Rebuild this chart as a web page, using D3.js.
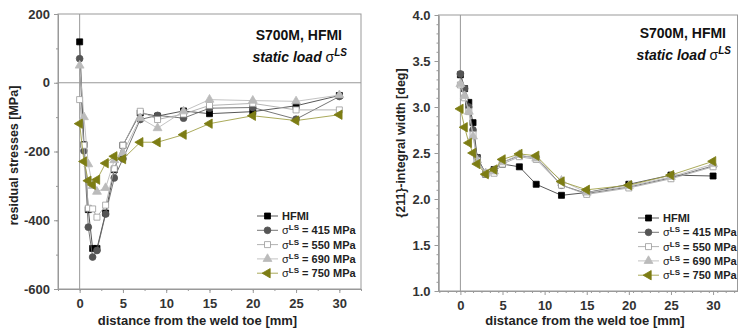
<!DOCTYPE html>
<html><head><meta charset="utf-8">
<script src="https://cdn.jsdelivr.net/npm/d3@7/dist/d3.min.js"></script>
<style>body{margin:0;background:#fff}svg{display:block}</style>
</head><body><svg id="c" width="739" height="331"></svg>
<script>
// ---- data ----
const distances = [0, 0.5, 1, 1.5, 2, 3, 4, 5, 7, 9, 12, 15, 20, 25, 30];
const seriesKeys = ["HFMI", "415", "550", "690", "750"];
const legendLevels = [null, "415", "550", "690", "750"];

// residual stresses [MPa]
const rsHFMI = [119, -180, -369, -482, -482, -379, -253, -182, -88, -97, -82, -90, -84, -67, -37];
const rs415  = [70, -198, -420, -507, -488, -382, -277, -221, -107, -95, -103, -74, -72, -106, -40];
const rs550  = [-49, -182, -365, -367, -391, -356, -250, -182, -83, -107, -91, -66, -60, -79, -79];
const rs690  = [50, -100, -237, -300, -317, -306, -225, -204, -103, -132, -83, -49, -52, -54, -36];
const rs750  = [-119, -229, -285, -297, -282, -234, -214, -222, -173, -173, -151, -119, -96, -110, -93];

// {211}-integral width [deg]
const iwHFMI = [3.35, 3.20, 3.05, 2.83, 2.45, 2.27, 2.32, 2.38, 2.35, 2.16, 2.04, 2.07, 2.16, 2.26, 2.25];
const iw415  = [3.36, 3.20, 3.00, 2.75, 2.45, 2.28, 2.32, 2.40, 2.47, 2.45, 2.15, 2.06, 2.13, 2.23, 2.36];
const iw550  = [3.24, 3.10, 2.95, 2.70, 2.42, 2.27, 2.28, 2.38, 2.46, 2.43, 2.15, 2.05, 2.12, 2.22, 2.35];
const iw690  = [3.25, 3.12, 2.95, 2.68, 2.42, 2.28, 2.30, 2.40, 2.48, 2.44, 2.20, 2.07, 2.14, 2.24, 2.38];
const iw750  = [2.98, 2.78, 2.61, 2.50, 2.38, 2.27, 2.32, 2.43, 2.49, 2.47, 2.19, 2.10, 2.15, 2.26, 2.41];

const xMajorTicks = [0, 5, 10, 15, 20, 25, 30];
const rsTicks = [-600, -400, -200, 0, 200];
const rsTickLabels = ["-600", "-400", "-200", "0", "200"];
const iwTicks = [1.0, 1.5, 2.0, 2.5, 3.0, 3.5, 4.0];
const iwTickLabels = ["1.0", "1.5", "2.0", "2.5", "3.0", "3.5", "4.0"];

// ---- styles ----
const styles = {
  "HFMI": {sym: d3.symbolSquare, size: 36, fill: "#000", stroke: "#000", line: "#444", rot: 0},
  "415":  {sym: d3.symbolCircle, size: 36, fill: "#555", stroke: "#555", line: "#666", rot: 0},
  "550":  {sym: d3.symbolSquare, size: 36, fill: "#fff", stroke: "#999", line: "#aaa", rot: 0},
  "690":  {sym: d3.symbolTriangle, size: 34, fill: "#bbb", stroke: "#bbb", line: "#bbb", rot: 0},
  "750":  {sym: d3.symbolTriangle, size: 38, fill: "#7d7d14", stroke: "#7d7d14", line: "#a0a048", rot: -90}
};
const FONT = "'Liberation Sans', Arial, sans-serif";
const svg = d3.select("#c");

function drawPanel(cfg) {
  const g = svg.append("g");
  const x = d3.scaleLinear().domain(cfg.xDomain).range(cfg.xRange);
  const y = d3.scaleLinear().domain(cfg.yDomain).range(cfg.yRange);
  const [x0, x1] = cfg.xRange, [y0, y1] = [cfg.yRange[1], cfg.yRange[0]];

  // axis labels (drawn first, below everything)
  g.append("text").attr("x", (x0 + x1) / 2 + cfg.xLabelDx).attr("y", 325).attr("text-anchor", "middle")
    .style("font-family", FONT).style("font-size", "13px").style("font-weight", "bold").attr("fill", "#222")
    .text("distance from the weld toe  [mm]");
  g.append("text").attr("transform", `translate(${cfg.yLabelX},${(y0 + y1) / 2 + cfg.yLabelDy}) rotate(-90)`)
    .attr("text-anchor", "middle")
    .style("font-family", FONT).style("font-size", "12.5px").style("font-weight", "bold").attr("fill", "#222")
    .text(cfg.yLabel);

  // frame
  g.append("rect").attr("x", x0).attr("y", y0).attr("width", x1 - x0).attr("height", y1 - y0)
    .attr("fill", "none").attr("stroke", "#999").attr("stroke-width", 1);
  // zero lines
  g.append("line").attr("x1", x(0)).attr("x2", x(0)).attr("y1", y0).attr("y2", y1)
    .attr("stroke", "#999").attr("stroke-width", 1);
  if (cfg.hZero) g.append("line").attr("x1", x0).attr("x2", x1).attr("y1", y(0)).attr("y2", y(0))
    .attr("stroke", "#999").attr("stroke-width", 1);

  // axes
  const minorX = d3.range(-2.5, 32.6, cfg.xMinorStep).filter(v => v >= cfg.xDomain[0] && v <= cfg.xDomain[1]);
  const ax = g.append("g").attr("transform", `translate(0,${y1})`)
    .call(d3.axisBottom(x).tickValues(minorX).tickSize(2).tickFormat("").tickSizeOuter(0));
  const axM = g.append("g").attr("transform", `translate(0,${y1})`)
    .call(d3.axisBottom(x).tickValues(xMajorTicks).tickSize(4).tickPadding(6).tickSizeOuter(0));
  const ay = g.append("g").attr("transform", `translate(${x0},0)`)
    .call(d3.axisLeft(y).tickValues(cfg.yMinor).tickSize(2).tickFormat("").tickSizeOuter(0));
  const ayM = g.append("g").attr("transform", `translate(${x0},0)`)
    .call(d3.axisLeft(y).tickValues(cfg.yTicks).tickSize(4).tickPadding(4)
      .tickFormat((v, i) => cfg.yTickLabels[i]).tickSizeOuter(0));
  [ax, axM, ay, ayM].forEach(a => {
    a.select(".domain").attr("stroke", "#999");
    a.selectAll(".tick line").attr("stroke", "#999");
    a.selectAll("text").attr("fill", "#333").style("font-family", FONT).style("font-size", "13px").style("font-weight", "bold");
  });

  // series
  cfg.series.forEach((vals, i) => {
    const st = styles[seriesKeys[i]];
    const pts = distances.map((d, j) => [d, vals[j]]).filter(p => p[1] != null);
    g.append("path").datum(pts)
      .attr("d", d3.line().x(p => x(p[0])).y(p => y(p[1])))
      .attr("fill", "none").attr("stroke", st.line).attr("stroke-width", 0.9);
    g.selectAll(null).data(pts).enter().append("path")
      .attr("d", d3.symbol().type(st.sym).size(st.size))
      .attr("transform", p => `translate(${x(p[0])},${y(p[1])}) rotate(${st.rot})`)
      .attr("fill", st.fill).attr("stroke", st.stroke).attr("stroke-width", 0.8);
  });

  // titles
  const t = g.append("text").attr("x", cfg.titleX).attr("y", cfg.titleY).attr("text-anchor", "end")
    .style("font-family", FONT).style("font-size", "14px").style("font-weight", "bold").attr("fill", "#111");
  t.append("tspan").text("S700M, HFMI");
  const t2 = g.append("text").attr("x", cfg.titleX + 5).attr("y", cfg.titleY + 22).attr("text-anchor", "end")
    .style("font-family", FONT).style("font-size", "14px").style("font-weight", "bold").style("font-style", "italic").attr("fill", "#111");
  t2.append("tspan").text("static load ");
  t2.append("tspan").text("σ").style("font-weight", "normal").style("font-style", "normal");
  t2.append("tspan").text("LS").attr("dy", -6).style("font-size", "10px");

  // legend
  const lg = g.append("g").attr("transform", `translate(${cfg.legX},${cfg.legY})`);
  seriesKeys.forEach((k, i) => {
    const st = styles[k];
    const row = lg.append("g").attr("transform", `translate(0,${i * 14.3})`);
    row.append("line").attr("x1", 0).attr("x2", 21).attr("y1", 0).attr("y2", 0)
      .attr("stroke", st.line).attr("stroke-width", 0.9);
    row.append("path").attr("d", d3.symbol().type(st.sym).size(st.size))
      .attr("transform", `translate(10.5,0) rotate(${st.rot})`)
      .attr("fill", st.fill).attr("stroke", st.stroke).attr("stroke-width", 0.8);
    const tx = row.append("text").attr("x", 25).attr("y", 4)
      .style("font-family", FONT).style("font-size", "11px").style("font-weight", "bold").attr("fill", "#222");
    if (legendLevels[i] == null) tx.text("HFMI");
    else {
      tx.append("tspan").text("σ").style("font-weight", "normal");
      tx.append("tspan").text("LS").attr("dy", -4).style("font-size", "8px");
      tx.append("tspan").text(` = ${legendLevels[i]} MPa`).attr("dy", 4);
    }
  });
}

drawPanel({
  xDomain: [-2.5, 32.5], xRange: [58, 361],
  yDomain: [-600, 200], yRange: [289, 14],
  yTicks: rsTicks, yTickLabels: rsTickLabels, yMinor: d3.range(-600, 201, 100),
  xMinorStep: 2.5, hZero: true,
  series: [rsHFMI, rs415, rs550, rs690, rs750],
  titleX: 342, titleY: 40, xLabelDx: -12,
  yLabel: "residual stresses  [MPa]", yLabelX: 18, yLabelDy: 4,
  legX: 257, legY: 216
});

drawPanel({
  xDomain: [-2.6, 32.9], xRange: [438.5, 737.5],
  yDomain: [1, 4], yRange: [291, 15],
  yTicks: iwTicks, yTickLabels: iwTickLabels, yMinor: d3.range(10, 41, 1).map(v => v / 10),
  xMinorStep: 1, hZero: false,
  series: [iwHFMI, iw415, iw550, iw690, iw750],
  titleX: 726, titleY: 38, xLabelDx: -3,
  yLabel: "{211}-integral width  [deg]", yLabelX: 405, yLabelDy: -10,
  legX: 638, legY: 218
});
</script>
</body></html>
